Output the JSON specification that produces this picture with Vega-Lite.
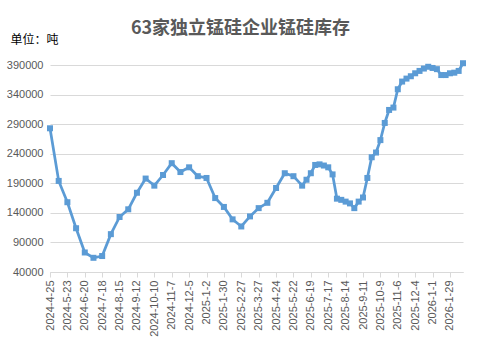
{
  "$schema": "https://vega.github.io/schema/vega-lite/v6.json",
  "autosize": "none",
  "width": 413,
  "height": 207,
  "padding": {"left": 50, "top": 65, "right": 17, "bottom": 75},
  "background": "white",
  "title": {
    "text": "63家独立锰硅企业锰硅库存",
    "font": "Noto Sans CJK SC",
    "fontSize": 18,
    "fontWeight": "bold",
    "color": "#595959",
    "anchor": "middle",
    "frame": "group",
    "baseline": "alphabetic",
    "offset": 0,
    "dy": 19,
    "dx": -16
  },
  "data": {
    "values": [
      {"date": "2024/04/25", "v": 283000},
      {"date": "2024/05/09", "v": 194000},
      {"date": "2024/05/23", "v": 158000},
      {"date": "2024/06/06", "v": 114000},
      {"date": "2024/06/20", "v": 73000},
      {"date": "2024/07/04", "v": 64000},
      {"date": "2024/07/18", "v": 67000},
      {"date": "2024/08/01", "v": 104000},
      {"date": "2024/08/15", "v": 133000},
      {"date": "2024/08/29", "v": 146000},
      {"date": "2024/09/12", "v": 174000},
      {"date": "2024/09/26", "v": 198000},
      {"date": "2024/10/10", "v": 186000},
      {"date": "2024/10/24", "v": 204000},
      {"date": "2024/11/07", "v": 224000},
      {"date": "2024/11/21", "v": 209000},
      {"date": "2024/12/05", "v": 217000},
      {"date": "2024/12/19", "v": 202000},
      {"date": "2025/01/02", "v": 199000},
      {"date": "2025/01/16", "v": 165000},
      {"date": "2025/01/30", "v": 150000},
      {"date": "2025/02/13", "v": 129000},
      {"date": "2025/02/27", "v": 117000},
      {"date": "2025/03/13", "v": 134000},
      {"date": "2025/03/27", "v": 148000},
      {"date": "2025/04/10", "v": 157000},
      {"date": "2025/04/24", "v": 182000},
      {"date": "2025/05/08", "v": 207000},
      {"date": "2025/05/22", "v": 202000},
      {"date": "2025/06/05", "v": 186000},
      {"date": "2025/06/12", "v": 196000},
      {"date": "2025/06/19", "v": 207000},
      {"date": "2025/06/26", "v": 221000},
      {"date": "2025/07/03", "v": 222000},
      {"date": "2025/07/10", "v": 220000},
      {"date": "2025/07/17", "v": 217000},
      {"date": "2025/07/24", "v": 205000},
      {"date": "2025/07/31", "v": 164000},
      {"date": "2025/08/07", "v": 162000},
      {"date": "2025/08/14", "v": 159000},
      {"date": "2025/08/21", "v": 156000},
      {"date": "2025/08/28", "v": 148000},
      {"date": "2025/09/04", "v": 159000},
      {"date": "2025/09/11", "v": 166000},
      {"date": "2025/09/18", "v": 199000},
      {"date": "2025/09/25", "v": 234000},
      {"date": "2025/10/02", "v": 242000},
      {"date": "2025/10/09", "v": 263000},
      {"date": "2025/10/16", "v": 292000},
      {"date": "2025/10/23", "v": 314000},
      {"date": "2025/10/30", "v": 318000},
      {"date": "2025/11/06", "v": 349000},
      {"date": "2025/11/13", "v": 362000},
      {"date": "2025/11/20", "v": 367000},
      {"date": "2025/11/27", "v": 371000},
      {"date": "2025/12/04", "v": 376000},
      {"date": "2025/12/11", "v": 380000},
      {"date": "2025/12/18", "v": 384000},
      {"date": "2025/12/25", "v": 387000},
      {"date": "2026/01/01", "v": 385000},
      {"date": "2026/01/08", "v": 383000},
      {"date": "2026/01/15", "v": 373000},
      {"date": "2026/01/22", "v": 373000},
      {"date": "2026/01/29", "v": 376000},
      {"date": "2026/02/05", "v": 377000},
      {"date": "2026/02/12", "v": 380000},
      {"date": "2026/02/19", "v": 393000}
    ]
  },
  "mark": {
    "type": "line",
    "color": "#5B9BD5",
    "strokeWidth": 2.75,
    "point": {"shape": "square", "size": 36, "filled": true, "color": "#5B9BD5", "opacity": 1}
  },
  "encoding": {
    "x": {
      "field": "date",
      "type": "temporal",
      "scale": {
        "domain": [{"year": 2024, "month": 4, "date": 25}, {"year": 2026, "month": 2, "date": 19}],
        "nice": false,
        "padding": 0
      },
      "axis": {
        "title": null,
        "values": [
          {"year": 2024, "month": 4, "date": 25},
          {"year": 2024, "month": 5, "date": 23},
          {"year": 2024, "month": 6, "date": 20},
          {"year": 2024, "month": 7, "date": 18},
          {"year": 2024, "month": 8, "date": 15},
          {"year": 2024, "month": 9, "date": 12},
          {"year": 2024, "month": 10, "date": 10},
          {"year": 2024, "month": 11, "date": 7},
          {"year": 2024, "month": 12, "date": 5},
          {"year": 2025, "month": 1, "date": 2},
          {"year": 2025, "month": 1, "date": 30},
          {"year": 2025, "month": 2, "date": 27},
          {"year": 2025, "month": 3, "date": 27},
          {"year": 2025, "month": 4, "date": 24},
          {"year": 2025, "month": 5, "date": 22},
          {"year": 2025, "month": 6, "date": 19},
          {"year": 2025, "month": 7, "date": 17},
          {"year": 2025, "month": 8, "date": 14},
          {"year": 2025, "month": 9, "date": 11},
          {"year": 2025, "month": 10, "date": 9},
          {"year": 2025, "month": 11, "date": 6},
          {"year": 2025, "month": 12, "date": 4},
          {"year": 2026, "month": 1, "date": 1},
          {"year": 2026, "month": 1, "date": 29}
        ],
        "format": "%Y-%-m-%-d",
        "labelAngle": 270,
        "labelFont": "Liberation Sans",
        "labelFontSize": 11,
        "labelColor": "#595959",
        "labelPadding": 3,
        "labelOverlap": false,
        "labelFlush": false,
        "grid": false,
        "domainColor": "#D9D9D9",
        "tickColor": "#D9D9D9",
        "tickSize": 5
      }
    },
    "y": {
      "field": "v",
      "type": "quantitative",
      "scale": {"domain": [40000, 390000], "nice": false, "zero": false},
      "axis": {
        "values": [40000, 90000, 140000, 190000, 240000, 290000, 340000, 390000],
        "format": "d",
        "title": "单位：吨",
        "titleFont": "Noto Sans CJK SC",
        "titleFontSize": 12,
        "titleFontWeight": "normal",
        "titleColor": "#000000",
        "titleAngle": 0,
        "titleAlign": "left",
        "titleBaseline": "middle",
        "titleX": -40,
        "titleY": -26,
        "labelFont": "Liberation Sans",
        "labelFontSize": 11,
        "labelColor": "#595959",
        "labelPadding": 7,
        "domain": false,
        "ticks": false,
        "grid": true,
        "gridColor": "#D9D9D9",
        "gridWidth": 1
      }
    }
  },
  "config": {
    "view": {"stroke": null}
  }
}
